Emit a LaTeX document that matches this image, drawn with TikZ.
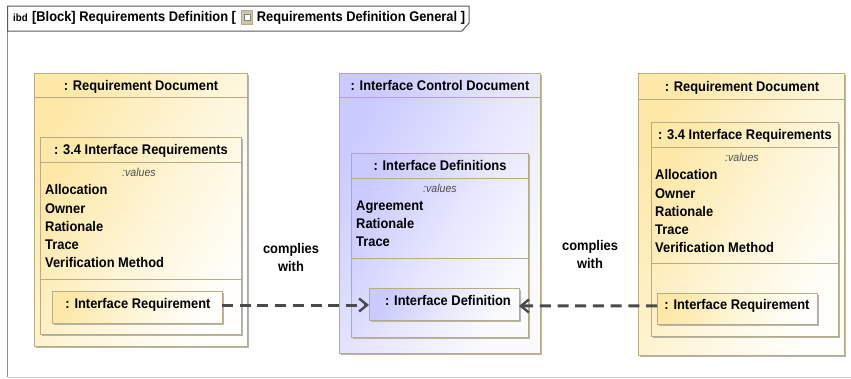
\documentclass[tikz,border=0pt]{standalone}
\usepackage{fontspec}
\setmainfont[FakeStretch=0.92]{Liberation Sans}
\usepackage{xcolor}
\usetikzlibrary{positioning,shadows,arrows.meta}
\definecolor{reqyellow}{HTML}{FDE8A8}
\definecolor{reqmid}{HTML}{FEF5D6}
\definecolor{reqwhite}{HTML}{FFFEFA}
\definecolor{ifcblue}{HTML}{CACAFF}
\definecolor{ifcmid}{HTML}{E6E6FF}
\definecolor{ifcwhite}{HTML}{FBFBFF}
\definecolor{boxedge}{HTML}{B8AC82}
\definecolor{boxshadow}{HTML}{B4B4B4}
\definecolor{linkgray}{HTML}{4A4A4A}
\tikzset{
  partbox/.style={draw=boxedge,line width=1pt,anchor=north west,inner sep=0pt,outer sep=0pt,
    drop shadow={shadow xshift=2pt,shadow yshift=-2pt,fill=boxshadow,opacity=1}},
  reqbox/.style={partbox,left color=reqyellow,right color=reqwhite,middle color=reqmid,shading angle=60},
  ifcbox/.style={partbox,left color=ifcblue,right color=ifcwhite,middle color=ifcmid,shading angle=60},
  titletext/.style={font=\fontsize{14}{15}\selectfont\bfseries,text=black,inner sep=0pt,text height=9.6pt,text depth=0pt},
  valuestext/.style={font=\fontsize{11.5}{12}\selectfont\itshape,text=black!70,inner sep=0pt,text height=8pt,text depth=0pt},
  attrtext/.style={font=\fontsize{14}{18.2}\selectfont\bfseries,text=black,inner sep=0pt,align=left,anchor=north west},
  link/.style={draw=linkgray,line width=3pt,dash pattern=on 11pt off 6.7pt,-{Straight Barb[length=8pt,width=13pt,line width=2.4pt]}},
}
\begin{document}
\begin{tikzpicture}[x=1pt,y=-1pt]
\useasboundingbox (0,0) rectangle (851,378);
% frame and tab
\draw[black!45,line width=1pt] (7.5,31) -- (7.5,377) ;
\draw[black!20,line width=1pt] (7.5,377) -- (851,377);
\draw[black!65,line width=1pt,fill=white] (7.5,31) -- (7.5,6) -- (469,6) -- (469,23) -- (462,31) -- cycle;
\node(TabKind) [titletext,font=\fontsize{10.5}{11}\selectfont\bfseries,anchor=west] at (13,17) {ibd};
\node(TabName) [titletext,anchor=west,right=4pt of TabKind.east] {[Block] Requirements Definition [};
\node(TabIcon) [draw=boxedge,fill=boxedge!70,minimum width=11pt,minimum height=14pt,inner sep=0pt,right=5pt of TabName] {};
\node(TabIconIn) [draw=black!50,fill=white,minimum width=6pt,minimum height=6pt,inner sep=0pt] at (TabIcon) {};
\node(TabDiagram) [titletext,right=4pt of TabIcon] {Requirements Definition General ]};
% left document
\node(DocA) [reqbox,minimum width=213pt,minimum height=273pt] at (34,73) {};
\draw[boxedge,line width=1pt] (34,97.5) -- (247,97.5);
\node(DocATitle) [titletext] at (141,85.5) {: Requirement Document};
\node(SecA) [reqbox,minimum width=201pt,minimum height=197pt] at (40,137) {};
\draw[boxedge,line width=1pt] (40,162) -- (241,162);
\draw[boxedge,line width=1pt] (40,279) -- (241,279);
\node(SecATitle) [titletext] at (141,149.5) {: 3.4 Interface Requirements};
\node(SecAValues) [valuestext] at (139,172.5) {:values};
\node(SecAAttr) [attrtext] at (45,184.5) {Allocation\\Owner\\Rationale\\Trace\\Verification Method};
\node(FieldA) [reqbox,minimum width=170pt,minimum height=32pt] at (52,291) {};
\node(FieldAName) [titletext] at (138,304) {: Interface Requirement};
% middle document
\node(DocB) [ifcbox,minimum width=201pt,minimum height=280pt] at (339,73) {};
\draw[boxedge,line width=1pt] (339,97.5) -- (540,97.5);
\node(DocBTitle) [titletext] at (440,85.5) {: Interface Control Document};
\node(SecB) [ifcbox,minimum width=177pt,minimum height=184pt] at (351,153) {};
\draw[boxedge,line width=1pt] (351,178) -- (528,178);
\draw[boxedge,line width=1pt] (351,258) -- (528,258);
\node(SecBTitle) [titletext] at (440,165.5) {: Interface Definitions};
\node(SecBValues) [valuestext] at (440,188.5) {:values};
\node(SecBAttr) [attrtext] at (356,200.5) {Agreement\\Rationale\\Trace};
\node(FieldB) [ifcbox,minimum width=150pt,minimum height=32pt] at (369,288) {};
\node(FieldBName) [titletext] at (448,300.5) {: Interface Definition};
% right document
\node(DocC) [reqbox,minimum width=206pt,minimum height=282pt] at (638,73) {};
\draw[boxedge,line width=1pt] (638,99) -- (844,99);
\node(DocCTitle) [titletext] at (742,86.5) {: Requirement Document};
\node(SecC) [reqbox,minimum width=187pt,minimum height=214pt] at (651,122) {};
\draw[boxedge,line width=1pt] (651,147) -- (838,147);
\draw[boxedge,line width=1pt] (651,263) -- (838,263);
\node(SecCTitle) [titletext] at (745,134.5) {: 3.4 Interface Requirements};
\node(SecCValues) [valuestext] at (742,157.5) {:values};
\node(SecCAttr) [attrtext] at (655,169.5) {Allocation\\Owner\\Rationale\\Trace\\Verification Method};
\node(FieldC) [reqbox,minimum width=160pt,minimum height=31pt] at (657,293) {};
\node(FieldCName) [titletext] at (737,305) {: Interface Requirement};
% dependencies
\draw[link] ([yshift=2pt]FieldA.east) -- ([yshift=-1pt]FieldB.west);
\draw[link] ([yshift=2.7pt]FieldC.west) -- ([yshift=-2pt]FieldB.east);
\node(LinkA) [titletext,align=center,font=\fontsize{14}{18}\selectfont\bfseries] at (291,267) {complies\\with};
\node(LinkB) [titletext,align=center,font=\fontsize{14}{18}\selectfont\bfseries] at (590,264) {complies\\with};
\end{tikzpicture}
\end{document}
